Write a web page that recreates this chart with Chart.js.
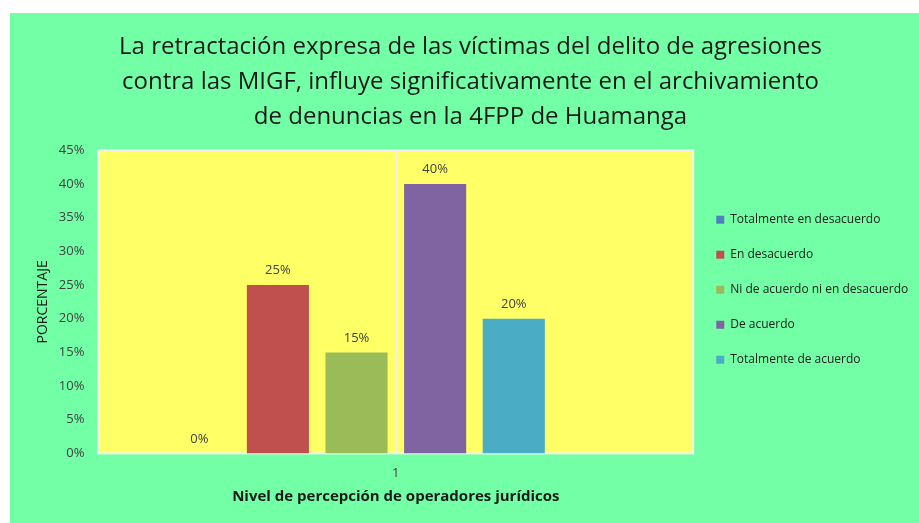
<!DOCTYPE html>
<html>
<head>
<meta charset="utf-8">
<script src="https://cdn.jsdelivr.net/npm/chart.js@4.4.0/dist/chart.umd.min.js"></script>
<style>
  body { margin: 0; background: #fff; }
  #wrap { position: absolute; left: 10px; top: 13px; width: 909px; height: 510px; background: #73ffa6; }
</style>
</head>
<body>
<div id="wrap"><canvas id="chart" width="909" height="510"></canvas></div>
<script>
const categories = ['1'];
const seriesNames = ['Totalmente en desacuerdo', 'En desacuerdo', 'Ni de acuerdo ni en desacuerdo', 'De acuerdo', 'Totalmente de acuerdo'];
const seriesValues = [0, 25, 15, 40, 20];
const seriesColors = ['#4f81bd', '#c0504d', '#9bbb59', '#8064a2', '#4bacc6'];
const yTicks = [0, 5, 10, 15, 20, 25, 30, 35, 40, 45];

const FONT = '"Open Sans", sans-serif';

const datasets = seriesNames.map((name, i) => ({
  label: name,
  data: [seriesValues[i]],
  backgroundColor: seriesColors[i],
  barPercentage: 0.79,
  categoryPercentage: 0.793
}));
// empty slot that Excel leaves on the right
datasets.push({ label: '', data: [null], backgroundColor: 'rgba(0,0,0,0)', barPercentage: 0.79, categoryPercentage: 0.793 });

const plotBg = {
  id: 'plotBg',
  beforeDraw(chart) {
    const a = chart.chartArea, c = chart.ctx;
    c.save();
    c.fillStyle = '#ffff66';
    c.fillRect(a.left, a.top, a.right - a.left, a.bottom - a.top);
    c.strokeStyle = '#f0f0f0';
    c.lineWidth = 2;
    c.strokeRect(a.left, a.top, a.right - a.left, a.bottom - a.top);
    c.restore();
  }
};

const barLabels = {
  id: 'barLabels',
  afterDatasetsDraw(chart) {
    const c = chart.ctx;
    c.save();
    c.font = '13px ' + FONT;
    c.fillStyle = '#404040';
    c.textAlign = 'center';
    c.textBaseline = 'bottom';
    chart.data.datasets.forEach((ds, i) => {
      if (i >= seriesValues.length) return;
      chart.getDatasetMeta(i).data.forEach((bar, j) => {
        c.fillText(ds.data[j] + '%', bar.x, bar.y - 8);
      });
    });
    c.restore();
  }
};

new Chart(document.getElementById('chart'), {
  type: 'bar',
  data: { labels: categories, datasets: datasets },
  plugins: [plotBg, barLabels],
  options: {
    responsive: false,
    animation: false,
    layout: { padding: { left: 15, right: 3, top: 0, bottom: 17 } },
    plugins: {
      title: {
        display: true,
        text: ['La retractación expresa de las víctimas del delito de agresiones',
               'contra las MIGF, influye significativamente en el archivamiento',
               'de denuncias en la 4FPP de Huamanga'],
        color: '#1a1a1a',
        font: { family: FONT, size: 24, weight: 'normal', lineHeight: 1.45 },
        padding: { top: 17, bottom: 16 }
      },
      legend: {
        position: 'right',
        title: { display: true, text: '', font: { size: 12, lineHeight: 1.2 }, padding: 23 },
        labels: {
          filter: item => item.text !== '',
          boxWidth: 8,
          boxHeight: 8,
          padding: 23,
          color: '#1a1a1a',
          font: { family: FONT, size: 12 }
        }
      },
      tooltip: { enabled: false }
    },
    scales: {
      x: {
        grid: { display: true, color: '#f0f0f0', lineWidth: 2, offset: false, drawTicks: false },
        border: { display: false },
        ticks: { color: '#404040', font: { family: FONT, size: 13 }, padding: 12 },
        title: { display: true, text: 'Nivel de percepción de operadores jurídicos', color: '#1a1a1a',
                 font: { family: FONT, size: 15, weight: 'bold' }, padding: { top: -5, bottom: 0 } }
      },
      y: {
        min: 0,
        max: 45,
        afterBuildTicks: s => { s.ticks = yTicks.map(v => ({ value: v })); },
        grid: { display: false, drawTicks: false },
        border: { display: false },
        ticks: { color: '#404040', font: { family: FONT, size: 13 }, padding: 14, callback: v => v + '%' },
        title: { display: true, text: 'PORCENTAJE', color: '#1a1a1a', font: { family: FONT, size: 14 }, padding: { top: 10, bottom: -7 } }
      }
    }
  }
});
</script>
</body>
</html>
